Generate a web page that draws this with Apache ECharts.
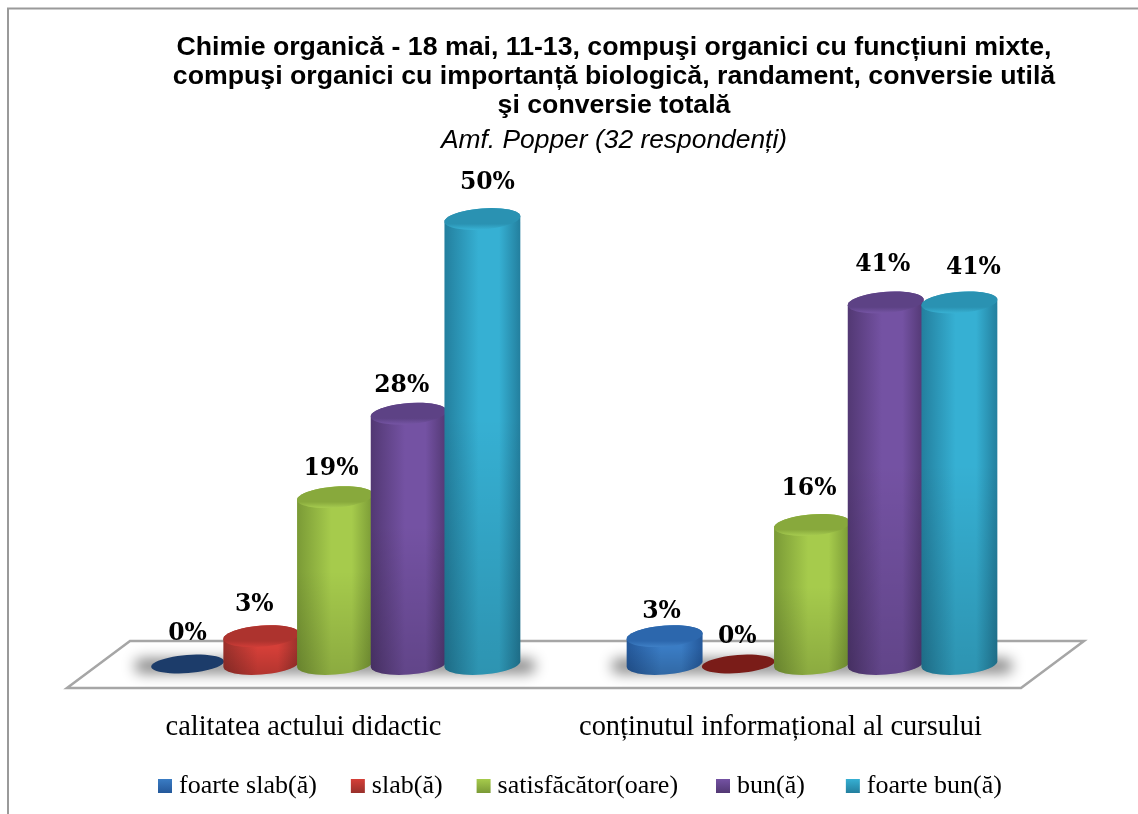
<!DOCTYPE html>
<html>
<head>
<meta charset="utf-8">
<style>html,body{margin:0;padding:0;background:#fff}#c{width:1138px;height:814px}</style>
<script src="https://cdn.jsdelivr.net/npm/echarts@6/dist/echarts.min.js"></script>
</head>
<body>
<div id="c"></div>
<script>
const titleText = 'Chimie organică - 18 mai, 11-13, compuşi organici cu funcțiuni mixte,\ncompuşi organici cu importanță biologică, randament, conversie utilă\nşi conversie totală';
const subtitleText = 'Amf. Popper (32 respondenți)';
const categories = ['calitatea actului didactic', 'conținutul informațional al cursului'];
const seriesNames = ['foarte slab(ă)', 'slab(ă)', 'satisfăcător(oare)', 'bun(ă)', 'foarte bun(ă)'];
const foarteSlab = [0, 3.13];
const slab = [3.13, 0];
const satisfacator = [18.75, 15.63];
const bun = [28.13, 40.63];
const foarteBun = [50, 40.63];
const seriesValues = [foarteSlab, slab, satisfacator, bun, foarteBun];

// styling only
const bodyDark = ['#24589a', '#98302b', '#7a9a36', '#523873', '#237f9e'];
const bodyLight = ['#3a7cc4', '#d53f38', '#a6cb4c', '#7452a3', '#36b0d3'];
const topDark = ['#2c67ad', '#ad332e', '#88a93c', '#5d4285', '#2a92b2'];
const topLight = ['#3f80c6', '#cf3d37', '#a7cc50', '#7655a5', '#38b2d4'];
const flatColor = ['#1c3c6a', '#7a1c18'];
const labelNudgeX = [[0, -7, -4, -7, 5], [-3, -1, -3, -3, 14]];
const labelLift = [[30, 31, 28, 28, 36], [24, 27, 36, 38, 35]];

const serif = '"Liberation Serif", serif';
const G = echarts.graphic;

function tiltedPoints(cx, cy, rx, ry, a, from, to, n) {
  const pts = [];
  for (let i = 0; i <= n; i++) {
    const t = from + (to - from) * i / n;
    pts.push([
      cx + rx * Math.cos(t) * Math.cos(a) - ry * Math.sin(t) * Math.sin(a),
      cy + rx * Math.cos(t) * Math.sin(a) + ry * Math.sin(t) * Math.cos(a)
    ]);
  }
  return pts;
}

function cylinder(idx) {
  return function (params, api) {
    const cat = api.value(0), val = api.value(1);
    const catWidth = api.size([1, 0])[0];
    const step = catWidth * 0.1545;
    const base = api.coord([cat, 0]);
    const top = api.coord([cat, val]);
    const cx = base[0] + (idx - 2) * step;
    const rx = step / 2 + 1.2, ry = 10.5, a = -4.5 * Math.PI / 180;
    const t0 = Math.atan2(-ry * Math.sin(a), rx * Math.cos(a));
    const children = [];
    if (val > 0) {
      const outline = tiltedPoints(cx, base[1], rx, ry, a, t0, t0 + Math.PI, 24)
        .concat(tiltedPoints(cx, top[1], rx, ry, a, t0 + Math.PI, t0 + 2 * Math.PI, 24));
      children.push({
        type: 'polygon',
        shape: { points: outline },
        style: {
          fill: new G.LinearGradient(0, 0, 1, 0, [
            { offset: 0, color: bodyDark[idx] },
            { offset: 0.45, color: bodyLight[idx] },
            { offset: 0.72, color: bodyLight[idx] },
            { offset: 1, color: bodyDark[idx] }
          ])
        }
      });
      children.push({
        type: 'polygon',
        shape: { points: outline },
        style: {
          fill: new G.LinearGradient(0, 0, 0, 1, [
            { offset: 0, color: 'rgba(0,0,0,0)' },
            { offset: 0.45, color: 'rgba(0,0,0,0)' },
            { offset: 1, color: 'rgba(0,0,0,0.16)' }
          ])
        }
      });
      children.push({
        type: 'polygon',
        shape: { points: tiltedPoints(cx, top[1], rx, ry, a, 0, Math.PI * 2, 48) },
        style: {
          fill: new G.LinearGradient(0, 0, 0, 1, [
            { offset: 0, color: topDark[idx] },
            { offset: 0.72, color: topDark[idx] },
            { offset: 1, color: topLight[idx] }
          ])
        }
      });
    } else {
      children.push({
        type: 'polygon',
        shape: { points: tiltedPoints(cx, base[1], rx - 1.5, ry - 1.5, a, 0, Math.PI * 2, 48) },
        style: { fill: flatColor[cat] }
      });
    }
    children.push({
      type: 'text',
      style: {
        x: cx + labelNudgeX[cat][idx],
        y: top[1] - labelLift[cat][idx],
        text: Math.round(val) + '%',
        font: 'bold 23.5px "DejaVu Serif", serif',
        fill: '#000',
        textAlign: 'center',
        textVerticalAlign: 'middle'
      }
    });
    return { type: 'group', children };
  };
}

const barSeries = seriesNames.map((name, idx) => ({
  type: 'custom',
  name,
  z: 3 + idx,
  clip: false,
  renderItem: cylinder(idx),
  encode: { x: 0, y: 1 },
  itemStyle: {
    color: new G.LinearGradient(0, 0, 0, 1, [
      { offset: 0, color: bodyLight[idx] },
      { offset: 1, color: bodyDark[idx] }
    ])
  },
  data: seriesValues[idx].map((v, c) => [c, v])
}));

const shadowSeries = {
  type: 'custom',
  name: 'umbra',
  z: 2,
  silent: true,
  clip: false,
  encode: { x: 0, y: 1 },
  renderItem(params, api) {
    const p = api.coord([api.value(0), 0]);
    const w = api.size([1, 0])[0];
    return {
      type: 'rect',
      shape: { x: p[0] - w * 0.42, y: p[1] - 5 - 3000, width: w * 0.84, height: 14, r: 7 },
      style: { fill: '#000', shadowBlur: 14, shadowColor: '#808080', shadowOffsetY: 3000 }
    };
  },
  data: categories.map((c, i) => [i, 0])
};

const legendStyle = {
  top: 773, padding: [0, 5, 0, 5],
  icon: 'rect',
  itemWidth: 14, itemHeight: 14,
  textStyle: { fontFamily: serif, fontSize: 26, color: '#000', padding: [0, 0, 0, 2] }
};

const chart = echarts.init(document.getElementById('c'), null, { renderer: 'canvas' });
chart.setOption({
  animation: false,
  backgroundColor: '#fff',
  title: {
    left: 614, top: 33, textAlign: 'center', padding: 0,
    text: titleText,
    subtext: subtitleText,
    itemGap: 6,
    textStyle: { fontFamily: '"Liberation Sans", Arial, sans-serif', fontWeight: 'bold', fontSize: 26.7, lineHeight: 29, color: '#000' },
    subtextStyle: { fontFamily: '"Liberation Sans", Arial, sans-serif', fontStyle: 'italic', fontSize: 26.4, color: '#000', lineHeight: 29 }
  },
  legend: [
    Object.assign({ left: 153, itemGap: 34, data: seriesNames.slice(0, 3) }, legendStyle),
    Object.assign({ left: 711, itemGap: 41, data: seriesNames.slice(3) }, legendStyle)
  ],
  grid: { left: 96.5, top: 219, width: 954, height: 445 },
  xAxis: {
    type: 'category', data: categories,
    axisLine: { show: false }, axisTick: { show: false },
    axisLabel: { interval: 0, hideOverlap: false, margin: 50, padding: [0, 63, 0, 0], fontFamily: serif, fontSize: 28.4, color: '#000' }
  },
  yAxis: { type: 'value', min: 0, max: 50, show: false, splitLine: { show: false } },
  graphic: [
    { type: 'polyline', z: -1, silent: true, shape: { points: [[8, 814], [8, 8.5], [1138, 8.5]] }, style: { fill: 'none', stroke: '#9a9a9a', lineWidth: 2 } },
    { type: 'polygon', z: -1, silent: true, shape: { points: [[67, 688], [130, 641], [1084, 641], [1021, 688]] }, style: { fill: '#fff', stroke: '#a6a6a6', lineWidth: 2.5 } }
  ],
  series: [shadowSeries].concat(barSeries)
});
</script>
</body>
</html>
